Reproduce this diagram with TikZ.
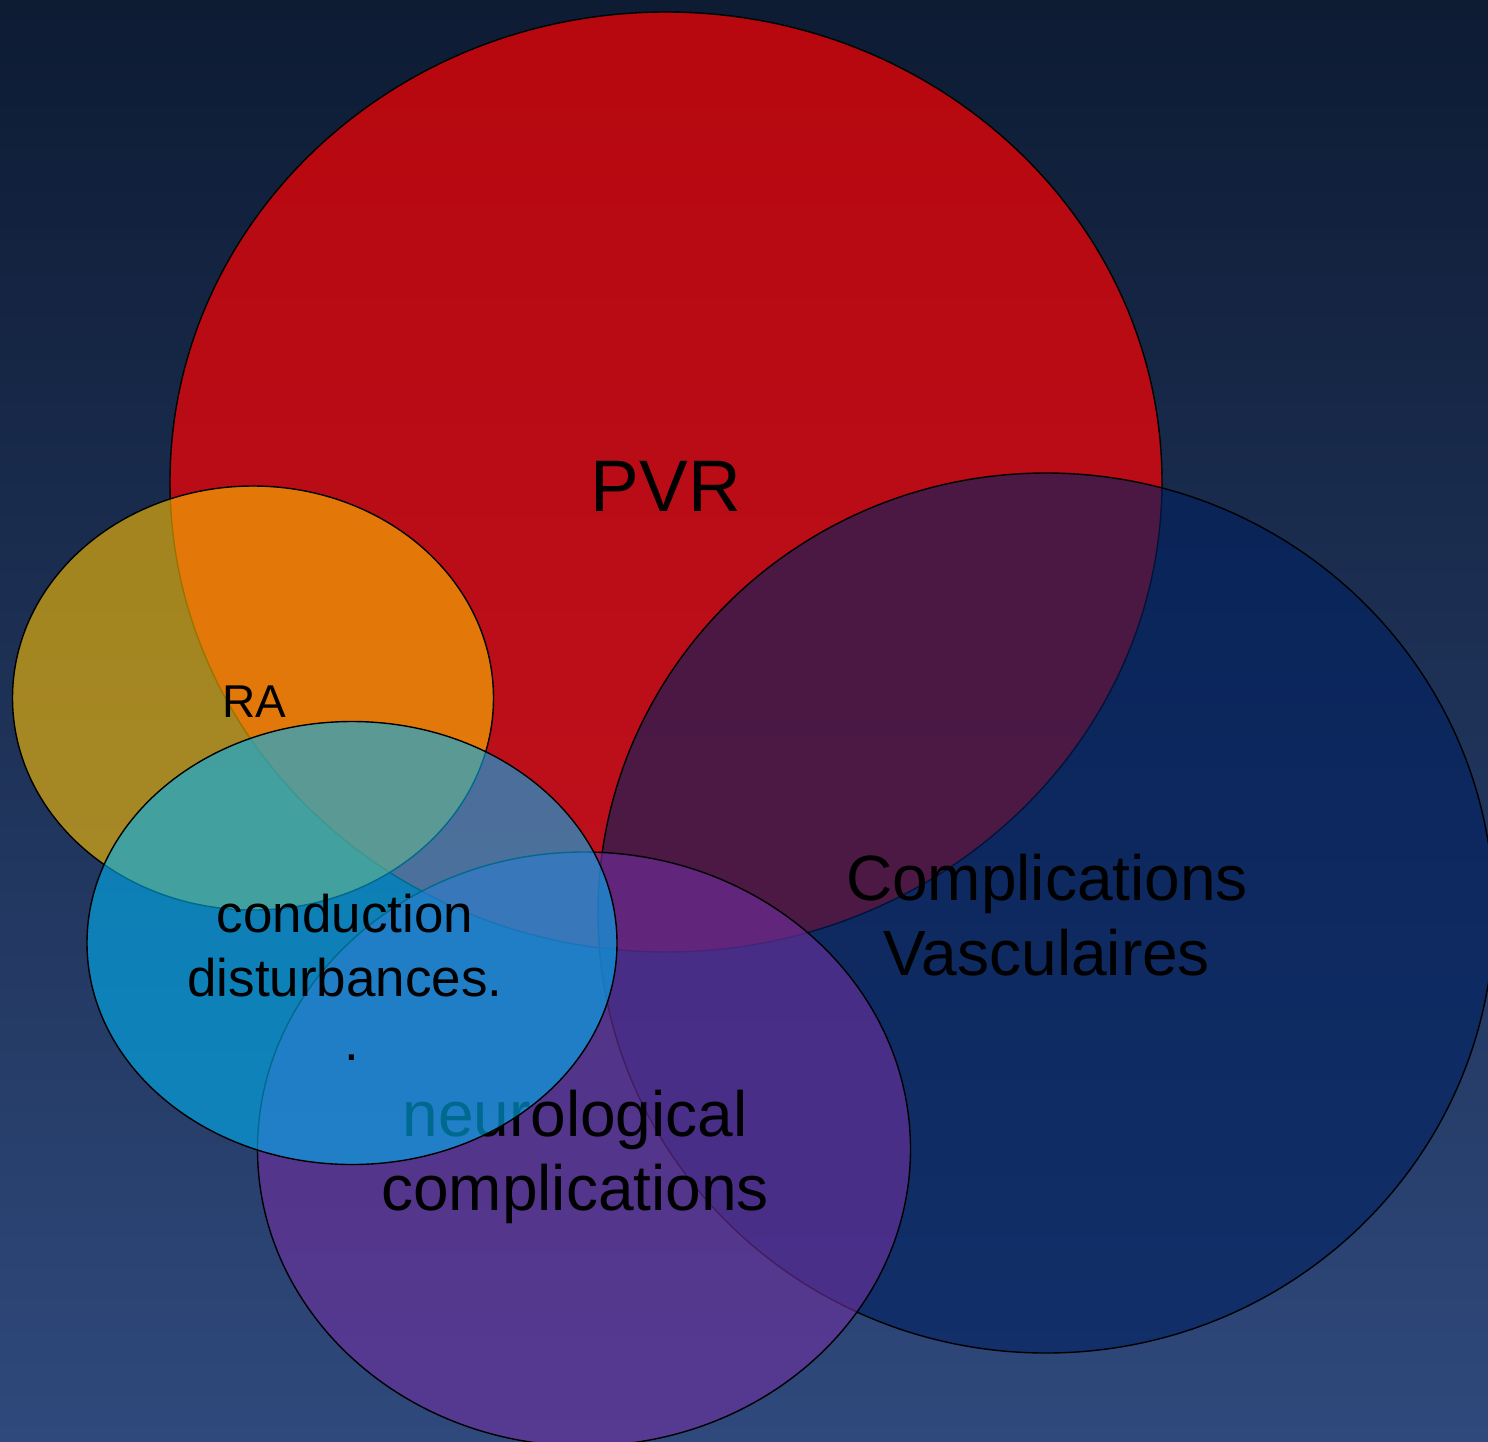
\documentclass[tikz,border=0pt]{standalone}
\usepackage{fontspec}
\setmainfont{Liberation Sans}
\usetikzlibrary{shapes.geometric}
\definecolor{bgtop}{RGB}{13,27,51}
\definecolor{bgbot}{RGB}{47,73,124}
\definecolor{vred}{RGB}{255,0,0}
\definecolor{vblue}{RGB}{0,32,96}
\definecolor{vpurple}{RGB}{112,48,160}
\definecolor{vamber}{RGB}{255,192,0}
\definecolor{vcyan}{RGB}{0,176,240}
\tikzset{
  venn/.style={ellipse, draw=black, line width=0.7pt, inner sep=0pt, fill opacity=0.6, draw opacity=1},
  lbl/.style={anchor=base, inner sep=0pt, text=black},
}
\begin{document}
\begin{tikzpicture}[x=0.5pt, y=-0.5pt]
\path[use as bounding box, clip] (0,0) rectangle (1488,1441);
\shade[top color=bgtop, bottom color=bgbot] (0,0) rectangle (1488,1441);
% PVR
\node[venn, fill=vred, fill opacity=0.7, minimum width=496pt, minimum height=470pt] (pvr) at (666,482) {};
\node[lbl, font=\fontsize{36.5}{42}\selectfont] (pvrtxt) at (666,511) {PVR};
% Complications Vasculaires
\node[venn, fill=vblue, minimum width=448pt, minimum height=440pt] (vasc) at (1046,913) {};
\node[lbl, font=\fontsize{32}{38}\selectfont] (vasc1) at (1047,900) {Complications};
\node[lbl, font=\fontsize{32}{38}\selectfont] (vasc2) at (1047,975) {Vasculaires};
% neurological complications
\node[venn, fill=vpurple, minimum width=326.5pt, minimum height=297pt] (neuro) at (584,1149) {};
\node[lbl, font=\fontsize{32}{38}\selectfont] (neuro1) at (575,1136) {neurological};
\node[lbl, font=\fontsize{32}{38}\selectfont] (neuro2) at (575,1210) {complications};
% RA
\node[venn, fill=vamber, minimum width=240.5pt, minimum height=212pt] (ra) at (253,698) {};
\node[lbl, font=\fontsize{23}{28}\selectfont] (ratxt) at (254,717) {RA};
% conduction disturbances
\node[venn, fill=vcyan, minimum width=265pt, minimum height=221.5pt] (cond) at (352,943) {};
\node[lbl, font=\fontsize{26.5}{32}\selectfont] (cond1) at (345,932) {conduction};
\node[lbl, font=\fontsize{26.5}{32}\selectfont] (cond2) at (345,996) {disturbances.};
\node[lbl, font=\fontsize{26.5}{32}\selectfont] (cond3) at (352,1060) {.};
\end{tikzpicture}
\end{document}
